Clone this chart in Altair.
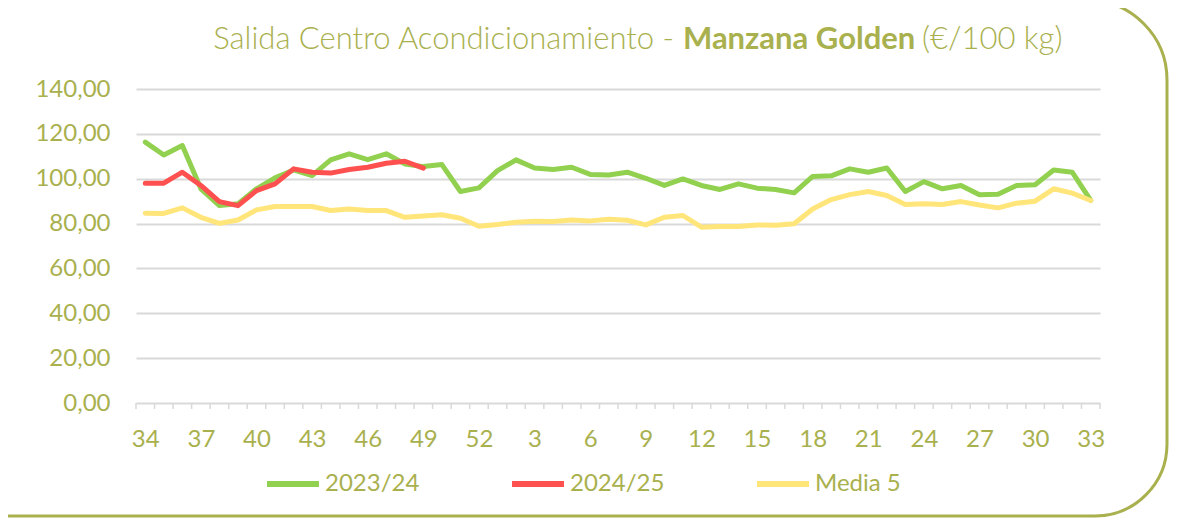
import altair as alt
import pandas as pd

weeks = [str(w) for w in list(range(34, 53)) + list(range(1, 34))]

s2324 = [116.3, 110.6, 114.8, 95.5, 88.0, 88.8, 95.5, 100.4, 103.9, 101.4,
         108.4, 111.1, 108.5, 111.1, 106.6, 105.4, 106.3, 94.3,
         95.9, 103.6, 108.4, 104.8, 104.1, 105.1, 101.9, 101.7, 102.9, 100.2,
         97.0, 99.9, 97.0, 95.2, 97.7, 95.8, 95.2, 93.7,
         101.0, 101.3, 104.4, 102.9, 104.8, 94.3, 98.7, 95.5, 97.0, 92.9,
         93.1, 97.0, 97.3, 103.9, 102.9, 90.3]
s2425 = [98.0, 98.0, 102.9, 97.0, 89.8, 88.0, 94.7, 97.7, 104.4, 102.9,
         102.5, 104.1, 105.1, 106.9, 107.8, 104.7]
media5 = [84.6, 84.5, 87.0, 82.8, 80.1, 81.6, 86.1, 87.6, 87.6, 87.6,
          85.8, 86.5, 85.8, 85.8, 82.8, 83.4, 83.9, 82.4,
          78.8, 79.6, 80.6, 81.0, 80.9, 81.6, 81.2, 81.9, 81.5, 79.4,
          82.8, 83.6, 78.4, 78.7, 78.7, 79.4, 79.3, 79.9,
          86.5, 90.7, 92.9, 94.3, 92.5, 88.5, 88.8, 88.5, 89.8, 88.3,
          87.0, 89.1, 90.0, 95.5, 93.6, 90.3]

series_names = ["2023/24", "2024/25", "Media 5"]
series_colors = ["#92D050", "#FF5050", "#FFE57A"]
y_ticks = [0, 20, 40, 60, 80, 100, 120, 140]
label_idx = list(range(0, 52, 3))

rows = []
for name, vals in zip(series_names, [s2324, s2425, media5]):
    for i, v in enumerate(vals):
        rows.append({"idx": i, "week": weeks[i], "value": v, "series": name})
df = pd.DataFrame(rows)

tick_df = pd.DataFrame({"idx": [i - 0.5 for i in range(len(weeks) + 1)]})

TXT = "#A9B04E"
GRID = "#D9D9D9"
FONT = "Lato"

W, H = 964, 314

week_expr = "[" + ",".join("'%s'" % w for w in weeks) + "][datum.value]"

x_enc = alt.X(
    "idx:Q",
    scale=alt.Scale(domain=[-0.5, len(weeks) - 0.5], nice=False, zero=False),
    axis=alt.Axis(values=label_idx, labelExpr=week_expr, title=None, grid=False,
                  domain=False, ticks=False, tickSize=0, labelPadding=24,
                  labelFontSize=24, labelColor=TXT, labelFont=FONT,
                  labelFlush=False, labelOverlap=False),
)
y_enc = alt.Y(
    "value:Q",
    scale=alt.Scale(domain=[0, 140], nice=False),
    axis=alt.Axis(values=y_ticks,
                  labelExpr="replace(format(datum.value, '.2f'), '.', ',')",
                  title=None, domain=False, ticks=False, grid=True,
                  gridColor=GRID, gridWidth=2, labelPadding=26,
                  labelFontSize=24, labelColor=TXT, labelFont=FONT),
)

lines = alt.Chart(df).mark_line(strokeWidth=5, strokeJoin="round", strokeCap="round").encode(
    x=x_enc,
    y=y_enc,
    color=alt.Color(
        "series:N",
        scale=alt.Scale(domain=series_names, range=series_colors),
        legend=alt.Legend(orient="none", legendX=128, legendY=366, direction="horizontal",
                          title=None, labelFontSize=24, labelFont=FONT, labelColor=TXT,
                          symbolType="stroke", symbolSize=2700, symbolStrokeWidth=6,
                          labelOffset=3, columnPadding=80),
    ),
)

ticks = alt.Chart(tick_df).mark_rule(color=GRID, strokeWidth=1.5).encode(
    x=x_enc, y=alt.value(H), y2=alt.value(H + 6)
)

one = pd.DataFrame({"k": [0]})
border = alt.Chart(one).mark_rect(
    fill="transparent", stroke=TXT, strokeWidth=3,
    cornerRadiusTopRight=80, cornerRadiusBottomRight=72,
).encode(x=alt.value(-200), x2=alt.value(1031), y=alt.value(-89), y2=alt.value(427))

t1 = alt.Chart(one).mark_text(text="Salida Centro Acondicionamiento -", font=FONT, fontSize=31,
                              fontWeight=300, color=TXT, align="right", baseline="alphabetic").encode(
    x=alt.value(538), y=alt.value(-40))
t2 = alt.Chart(one).mark_text(text="Manzana Golden", font=FONT, fontSize=31,
                              fontWeight="bold", color=TXT, align="left", baseline="alphabetic").encode(
    x=alt.value(547), y=alt.value(-40))
t3 = alt.Chart(one).mark_text(text="(€/100 kg)", font=FONT, fontSize=31,
                              fontWeight=300, color=TXT, align="left", baseline="alphabetic").encode(
    x=alt.value(786), y=alt.value(-40))

chart = alt.layer(border, ticks, lines, t1, t2, t3).properties(
    width=W, height=H,
    autosize=alt.AutoSizeParams(type="none"),
    padding={"left": 128, "top": 81, "right": 70, "bottom": 115},
    background="white",
).configure_view(stroke="transparent")

chart.save("out.html", embed_options={"renderer": "svg", "actions": False})
